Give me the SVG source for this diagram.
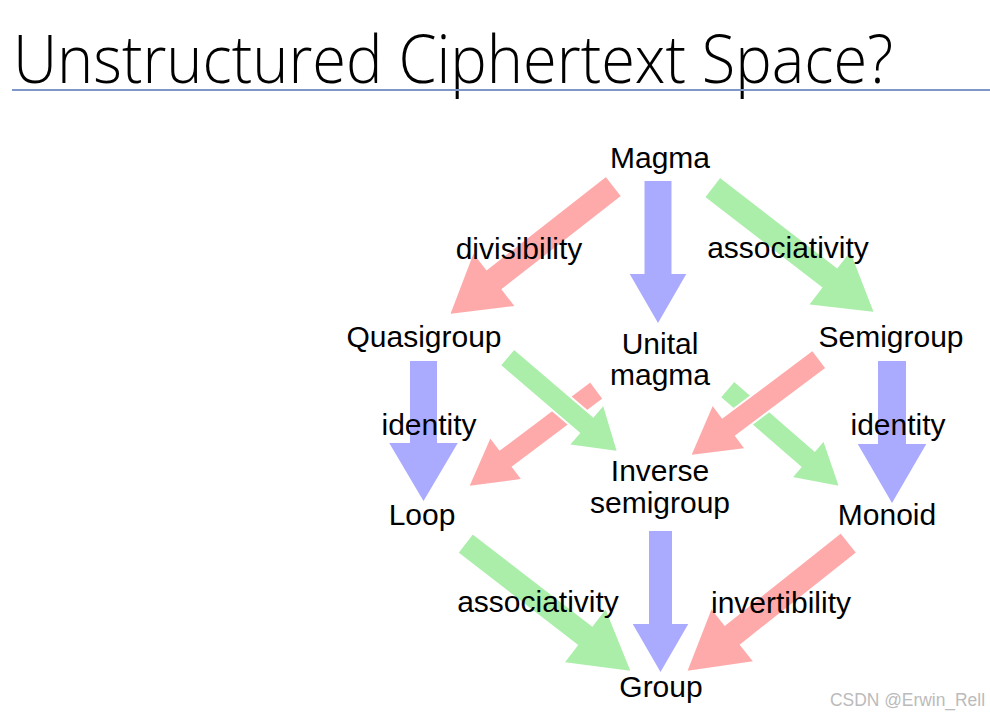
<svg xmlns="http://www.w3.org/2000/svg" width="990" height="718" viewBox="0 0 990 718">
<style>
.t{font-family:"Liberation Sans",Arial,sans-serif;font-size:30px;fill:#000;text-anchor:middle}
.r{fill:#FFAAAA;stroke:#fff;stroke-width:2}
.g{fill:#AAEEAA;stroke:#fff;stroke-width:2}
.b{fill:#AAAAFF;stroke:#fff;stroke-width:2}
</style>
<rect width="990" height="718" fill="#fff"/>
<g id="title">
<text x="13" y="83" font-family="'Open Sans',sans-serif" font-weight="300" font-size="67" textLength="880" lengthAdjust="spacingAndGlyphs" fill="#000">Unstructured Ciphertext Space?</text>
<line x1="12" y1="90" x2="990" y2="90" stroke="#7F96C8" stroke-width="2"/>
</g>
<g id="connectors">
<path class="b" transform="translate(658,180) rotate(90)" d="M0,-14.5 L93,-14.5 L93,-30 L145,0 L93,30 L93,14.5 L0,14.5Z"/>
<path class="r" transform="translate(614,186) rotate(141.98)" d="M0,-13 L151.4,-13 L151.4,-35 L209.4,0 L151.4,35 L151.4,13 L0,13Z"/>
<path class="g" transform="translate(712,187) rotate(37.7)" d="M0,-13 L148,-13 L148,-35 L206,0 L148,35 L148,13 L0,13Z"/>
<path class="b" transform="translate(423.5,360) rotate(90)" d="M0,-14.5 L82,-14.5 L82,-36 L143,0 L82,36 L82,14.5 L0,14.5Z"/>
<path class="b" transform="translate(892,360) rotate(90)" d="M0,-15 L83,-15 L83,-36 L145,0 L83,36 L83,15 L0,15Z"/>
<path class="r" transform="translate(597,390) rotate(143.06)" d="M0,-11 L113.4,-11 L113.4,-27 L161.4,0 L113.4,27 L113.4,11 L0,11Z"/>
<path class="g" transform="translate(507,357) rotate(40.56)" d="M0,-11 L104.1,-11 L104.1,-27 L146.1,0 L104.1,27 L104.1,11 L0,11Z"/>
<path class="g" transform="translate(727,389) rotate(40.93)" d="M0,-11 L106.6,-11 L106.6,-25 L149.6,0 L106.6,25 L106.6,11 L0,11Z"/>
<path class="r" transform="translate(819.5,359) rotate(143.16)" d="M0,-11.5 L112.8,-11.5 L112.8,-28 L161.8,0 L112.8,28 L112.8,11.5 L0,11.5Z"/>
<path class="g" transform="translate(465,543) rotate(37.69)" d="M0,-12.5 L151,-12.5 L151,-35 L211,0 L151,35 L151,12.5 L0,12.5Z"/>
<path class="b" transform="translate(660.5,530) rotate(90)" d="M0,-12.5 L93,-12.5 L93,-29.5 L144,0 L93,29.5 L93,12.5 L0,12.5Z"/>
<path class="r" transform="translate(849,542.5) rotate(141.53)" d="M0,-13 L148.2,-13 L148.2,-35 L208.2,0 L148.2,35 L148.2,13 L0,13Z"/>
<text class="t" x="519" y="259">divisibility</text>
<text class="t" x="788" y="258">associativity</text>
<text class="t" x="429" y="435">identity</text>
<text class="t" x="898" y="435">identity</text>
<text class="t" x="538" y="612">associativity</text>
<text class="t" x="781" y="613">invertibility</text>
</g>
<g id="magma"><text class="t" x="660" y="168">Magma</text></g>
<g id="quasigroup"><text class="t" x="424" y="347">Quasigroup</text></g>
<g id="unital-magma"><text class="t" x="660" y="354">Unital</text><text class="t" x="660" y="385">magma</text></g>
<g id="semigroup"><text class="t" x="891" y="347">Semigroup</text></g>
<g id="inverse-semigroup"><text class="t" x="660" y="481">Inverse</text><text class="t" x="660" y="513">semigroup</text></g>
<g id="loop"><text class="t" x="422" y="525">Loop</text></g>
<g id="monoid"><text class="t" x="887" y="525">Monoid</text></g>
<g id="group"><text class="t" x="661" y="697">Group</text></g>
<g id="watermark"><text x="830" y="706" font-family="'Liberation Sans',Arial,sans-serif" font-size="18" fill="#BBBBBB" textLength="155" lengthAdjust="spacingAndGlyphs">CSDN @Erwin_Rell</text></g>
</svg>
